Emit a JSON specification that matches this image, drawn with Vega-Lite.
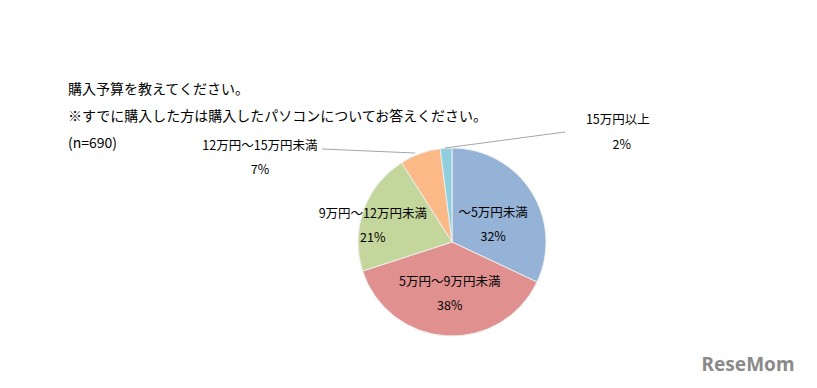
{
  "$schema": "https://vega.github.io/schema/vega-lite/v6.json",
  "width": 817,
  "height": 388,
  "autosize": "none",
  "padding": 0,
  "background": "white",
  "config": {"view": {"stroke": null}, "font": "Noto Sans CJK JP"},
  "title": {
    "text": ["購入予算を教えてください。", "※すでに購入した方は購入したパソコンについてお答えください。", "(n=690)"],
    "anchor": "start",
    "frame": "group",
    "orient": "top",
    "baseline": "top",
    "align": "left",
    "fontSize": 14,
    "fontWeight": "normal",
    "color": "#000000",
    "lineHeight": 27,
    "dx": 68,
    "dy": 155,
    "font": "Noto Sans CJK JP"
  },
  "data": {
    "values": [
      {"order": 1, "label": "～5万円未満", "pct": 0.32},
      {"order": 2, "label": "5万円～9万円未満", "pct": 0.38},
      {"order": 3, "label": "9万円～12万円未満", "pct": 0.21},
      {"order": 4, "label": "12万円～15万円未満", "pct": 0.07},
      {"order": 5, "label": "15万円以上", "pct": 0.02}
    ]
  },
  "encoding": {
    "theta": {"field": "pct", "type": "quantitative", "stack": true},
    "order": {"field": "order", "type": "quantitative"},
    "x": {"value": 452},
    "y": {"value": 242}
  },
  "layer": [
    {
      "mark": {"type": "arc", "outerRadius": 94, "stroke": "#eeeeee", "strokeWidth": 1},
      "encoding": {
        "color": {
          "field": "label",
          "type": "nominal",
          "legend": null,
          "scale": {
            "domain": ["～5万円未満", "5万円～9万円未満", "9万円～12万円未満", "12万円～15万円未満", "15万円以上"],
            "range": ["#95B3D7", "#E0908F", "#C3D69B", "#FAB986", "#8FCFDD"]
          }
        }
      }
    },
    {
      "mark": {"type": "rule", "color": "#a6a6a6", "strokeWidth": 1},
      "encoding": {"x": {"value": 322}, "y": {"value": 149}, "x2": {"value": 415}, "y2": {"value": 153}, "theta": null, "order": null},
      "data": {"values": [{}]}
    },
    {
      "mark": {"type": "rule", "color": "#a6a6a6", "strokeWidth": 1},
      "encoding": {"x": {"value": 445}, "y": {"value": 148}, "x2": {"value": 565}, "y2": {"value": 132}, "theta": null, "order": null},
      "data": {"values": [{}]}
    },
    {
      "mark": {"type": "text", "radius": 44, "dx": 4, "dy": -5, "fontSize": 12.5, "color": "#000000"},
      "encoding": {"text": {"condition": {"test": "datum.order === 1", "field": "label"}, "value": ""}}
    },
    {
      "mark": {"type": "text", "radius": 44, "dx": 4, "dy": 19, "fontSize": 12.5, "color": "#000000"},
      "encoding": {"text": {"condition": {"test": "datum.order === 1", "field": "pct", "format": ".0%"}, "value": ""}}
    },
    {
      "mark": {"type": "text", "radius": 51, "dx": 1, "dy": -11, "fontSize": 12.5, "color": "#000000"},
      "encoding": {"text": {"condition": {"test": "datum.order === 2", "field": "label"}, "value": ""}}
    },
    {
      "mark": {"type": "text", "radius": 51, "dx": 1, "dy": 13, "fontSize": 12.5, "color": "#000000"},
      "encoding": {"text": {"condition": {"test": "datum.order === 2", "field": "pct", "format": ".0%"}, "value": ""}}
    },
    {
      "mark": {"type": "text", "radius": 81, "dx": -3, "dy": -1, "fontSize": 12.5, "color": "#000000"},
      "encoding": {"text": {"condition": {"test": "datum.order === 3", "field": "label"}, "value": ""}}
    },
    {
      "mark": {"type": "text", "radius": 81, "dx": -3, "dy": 23, "fontSize": 12.5, "color": "#000000"},
      "encoding": {"text": {"condition": {"test": "datum.order === 3", "field": "pct", "format": ".0%"}, "value": ""}}
    },
    {
      "mark": {"type": "text", "radius": 130, "dx": -148, "dy": 26, "fontSize": 12.5, "color": "#000000"},
      "encoding": {"text": {"condition": {"test": "datum.order === 4", "field": "label"}, "value": ""}}
    },
    {
      "mark": {"type": "text", "radius": 130, "dx": -148, "dy": 50, "fontSize": 12.5, "color": "#000000"},
      "encoding": {"text": {"condition": {"test": "datum.order === 4", "field": "pct", "format": ".0%"}, "value": ""}}
    },
    {
      "mark": {"type": "text", "radius": 130, "dx": 174, "dy": 8, "fontSize": 12.5, "color": "#000000"},
      "encoding": {"text": {"condition": {"test": "datum.order === 5", "field": "label"}, "value": ""}}
    },
    {
      "mark": {"type": "text", "radius": 130, "dx": 178, "dy": 33, "fontSize": 12.5, "color": "#000000"},
      "encoding": {"text": {"condition": {"test": "datum.order === 5", "field": "pct", "format": ".0%"}, "value": ""}}
    },
    {
      "data": {"values": [{"brand": "ReseMom"}]},
      "mark": {"type": "text", "fontSize": 19, "fontWeight": "bold", "color": "#8a8a8a", "font": "Noto Sans", "align": "center"},
      "encoding": {"text": {"field": "brand"}, "x": {"value": 748}, "y": {"value": 365}, "theta": null, "order": null}
    }
  ]
}
